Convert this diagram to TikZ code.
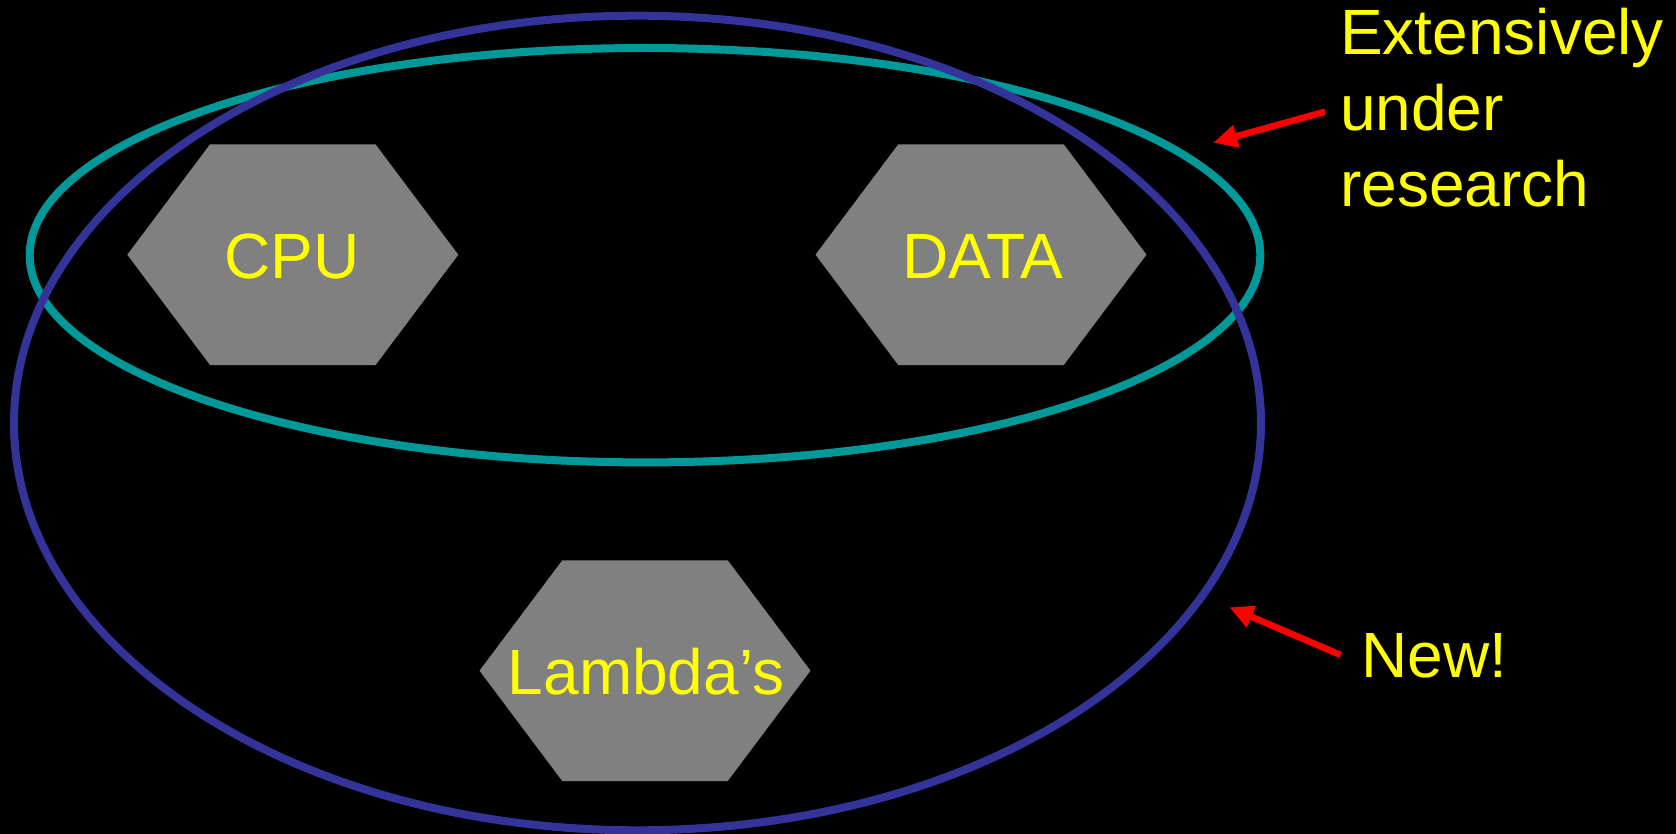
\documentclass[tikz,border=0pt]{standalone}
\usepackage{fontspec}
\setmainfont{Liberation Sans}
\usetikzlibrary{arrows.meta}
\definecolor{tealc}{RGB}{0,153,153}
\definecolor{bluec}{RGB}{51,51,153}
\definecolor{hexgray}{RGB}{128,128,128}
\definecolor{yel}{RGB}{255,255,0}
\tikzset{
  lbl/.style={font=\fontsize{64}{76}\selectfont, text=yel, inner sep=0pt},
  ring/.style={line width=8pt},
  redarrow/.style={draw=red, line width=6.5pt, -{Triangle[length=24pt,width=22pt]}},
  hexagon/.pic={\fill[hexgray] (-165.5,0) -- (-82.8,-110.3) -- (82.8,-110.3) -- (165.5,0) -- (82.8,110.3) -- (-82.8,110.3) -- cycle;}
}
\begin{document}
\begin{tikzpicture}[x=1pt,y=-1pt]
\useasboundingbox (0,0) rectangle (1676,834);
\fill[black] (0,0) rectangle (1676,834);
% ellipses
\coordinate (tealc) at (645,255.2);
\coordinate (bluec) at (637.5,423);
\draw[ring, draw=tealc] (tealc) ellipse [x radius=615.3, y radius=207.2];
\draw[ring, draw=bluec] (bluec) ellipse [x radius=623.5, y radius=407.3];
% hexagons
\pic at (292.8,254.7) {hexagon};
\pic at (981,254.7) {hexagon};
\pic at (645,670.7) {hexagon};
\node[lbl, anchor=base] (cpu) at (292,278.5) {CPU};
\node[lbl, anchor=base] (data) at (983,278.5) {DATA};
\node[lbl, anchor=base] (lambda) at (646,694.3) {Lambda’s};
% annotations
\node[lbl, anchor=base west, align=left] (ext) at (1340,206.7) {Extensively\\under\\research};
\node[lbl, anchor=base west] (new) at (1361,677.7) {New!};
\coordinate (t1) at (1325,111.7);
\coordinate (h1) at (1213.3,142.7);
\coordinate (t2) at (1340.7,655);
\coordinate (h2) at (1229.3,607.3);
\draw[redarrow] (t1) -- (h1);
\draw[redarrow] (t2) -- (h2);
\end{tikzpicture}
\end{document}
